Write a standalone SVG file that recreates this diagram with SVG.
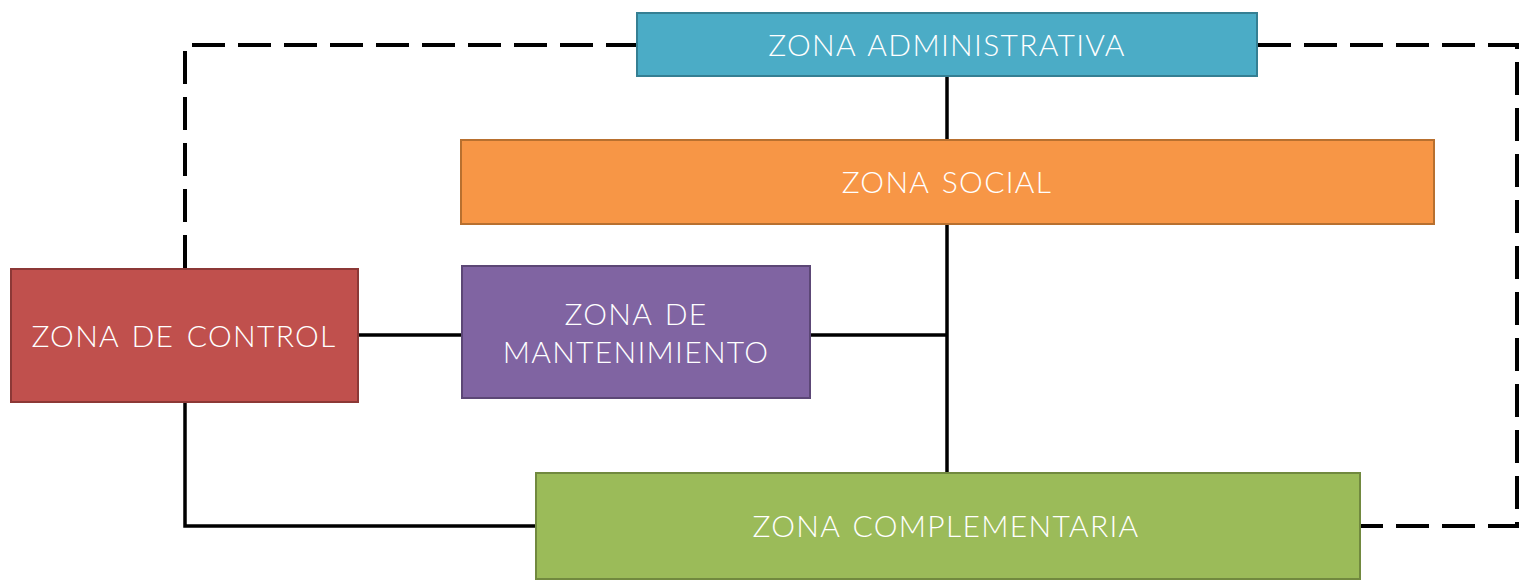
<svg xmlns="http://www.w3.org/2000/svg" width="1519" height="585" viewBox="0 0 1519 585">
<style>
.box{stroke-width:2}
.lbl{font-family:Lato,"Liberation Sans",sans-serif;font-weight:300;font-size:30px;fill:#ffffff;text-anchor:middle;letter-spacing:1.3px;word-spacing:3px}
.solid{fill:none;stroke:#000;stroke-width:3.5}
.dash{fill:none;stroke:#000;stroke-width:4;stroke-dasharray:33 13}
</style>
<rect width="1519" height="585" fill="#fff"/>
<g id="connectors">
<path class="dash" d="M185 268 V45 H636"/>
<path class="dash" d="M1258 45 H1517 V526 H1360"/>
<path class="solid" d="M947 77 V139"/>
<path class="solid" d="M947 224 V472"/>
<path class="solid" d="M810 335 H947"/>
<path class="solid" d="M359 335 H461"/>
<path class="solid" d="M185 402 V526 H535"/>
</g>
<g id="zona-administrativa">
<rect class="box" x="637" y="13" width="620" height="63" fill="#4BACC6" stroke="#357F93"/>
<text class="lbl" x="947" y="56">ZONA ADMINISTRATIVA</text>
</g>
<g id="zona-social">
<rect class="box" x="461" y="140" width="973" height="84" fill="#F79646" stroke="#B8702F"/>
<text class="lbl" x="947" y="193">ZONA SOCIAL</text>
</g>
<g id="zona-control">
<rect class="box" x="11" y="269" width="347" height="133" fill="#C0504D" stroke="#8C3836"/>
<text class="lbl" x="184" y="347">ZONA DE CONTROL</text>
</g>
<g id="zona-mantenimiento">
<rect class="box" x="462" y="266" width="348" height="132" fill="#8064A2" stroke="#5C4776"/>
<text class="lbl" x="636" y="325">ZONA DE</text>
<text class="lbl" x="636" y="363">MANTENIMIENTO</text>
</g>
<g id="zona-complementaria">
<rect class="box" x="536" y="473" width="824" height="106" fill="#9BBB59" stroke="#71893F"/>
<text class="lbl" x="946" y="537">ZONA COMPLEMENTARIA</text>
</g>
</svg>
